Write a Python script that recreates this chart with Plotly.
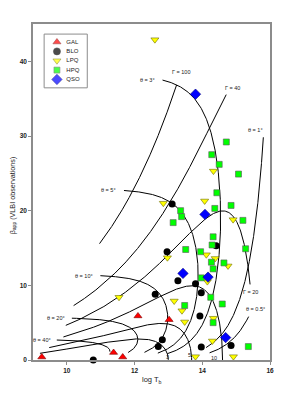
import numpy as np
import plotly.graph_objects as go

# ---------------- data ----------------
gal_logT = [9.26, 11.38, 11.65, 12.10, 13.02]
gal_beta = [0.4, 1.0, 0.4, 5.9, 5.4]

blo_logT = [10.78, 12.61, 12.70, 12.82, 12.96, 13.11, 13.28, 13.80, 13.97, 13.93, 13.97, 14.85, 14.41]
blo_beta = [0.0, 8.8, 1.8, 2.7, 14.5, 20.9, 10.6, 10.2, 9.0, 5.9, 1.75, 1.95, 15.3]

lpq_logT = [12.60, 12.85, 14.07, 14.33, 14.91, 14.12, 14.38, 12.97, 11.54, 13.17,
            13.40, 13.48, 13.80, 14.15, 14.33, 14.30, 14.92, 14.76]
lpq_beta = [42.9, 21.0, 21.3, 25.3, 18.8, 14.1, 13.6, 13.7, 8.4, 7.9,
            6.6, 5.1, 0.45, 10.5, 5.6, 2.55, 0.45, 12.6]

hpq_logT = [14.71, 14.28, 14.50, 15.07, 14.43, 14.85, 14.37, 13.36, 13.39, 13.14,
            15.20, 14.32, 14.29, 13.51, 13.95, 15.28, 14.27, 14.64, 14.32, 13.97,
            14.25, 14.59, 13.48, 14.32, 15.36]
hpq_beta = [29.2, 27.5, 26.2, 24.9, 22.4, 20.7, 20.3, 20.0, 19.2, 18.4,
            18.7, 16.5, 15.4, 14.8, 14.5, 14.9, 13.1, 13.0, 12.2, 11.0,
            8.4, 7.5, 7.3, 5.0, 1.8]

qso_logT = [13.80, 14.08, 13.43, 14.17, 14.69]
qso_beta = [35.6, 19.5, 11.6, 11.1, 3.0]

# model grid (Lorentz factor / viewing angle), T_eq equipartition temperature
T_EQ = 5e10
theta_curves_deg = [0.5, 1, 3, 5, 10, 20, 40]
theta_curve_gmin = [7.5, 7.0, 3.0, 2.5, 2.0, 1.6, 1.5]
theta_curve_gmax = [18.5, 34, 140, 122, 52, 25, 9]

gamma_curves = [3, 5, 10, 20, 40, 100]
gamma_curve_thmax = [93, 60, 35, 24, 15.5, 7.3]
gamma_curve_thmin = [0, 0, 0, 0.78, 2.35, 3.0]

categories = ["GAL", "BLO", "LPQ", "HPQ", "QSO"]


def model(G, th_deg):
    G = np.asarray(G, dtype=float)
    th = np.radians(th_deg)
    b = np.sqrt(1.0 - 1.0 / G**2)
    dop = 1.0 / (G * (1.0 - b * np.cos(th)))
    bapp = b * np.sin(th) / (1.0 - b * np.cos(th))
    logT = np.log10(T_EQ) + 3.0 * np.log10(dop)
    return logT, bapp


fig = go.Figure()
LINE = dict(color="black", width=1)
FONT = "Liberation Sans, Arial, sans-serif"
ann = []

# label placement offsets (pixels) for the model-curve labels
theta_lbl = {0.5: ("left", "bottom", -5, 3), 1: ("right", "bottom", 2, 2),
             3: ("right", "middle", -6, 0), 5: ("right", "middle", -6, 0),
             10: ("right", "middle", -5, 0), 20: ("right", "middle", -5, 0),
             40: ("right", "middle", -4, 0)}
gamma_lbl = {100: ("Γ = 100", "center", "bottom", 4, 8),
             40: ("Γ = 40", "left", "bottom", -3, 2),
             20: ("Γ = 20", "center", "top", 0, -3),
             10: ("10", "center", "middle", -9, 2),
             5: ("5", "center", "middle", -2, 5),
             3: ("3", "center", "middle", -1, 3)}

# constant-theta curves
for th, g0, g1 in zip(theta_curves_deg, theta_curve_gmin, theta_curve_gmax):
    G = np.logspace(np.log10(g0), np.log10(g1), 500)
    x, y = model(G, th)
    fig.add_trace(go.Scatter(x=x, y=y, mode="lines", line=LINE, hoverinfo="skip", showlegend=False))
    xa, ya, xs, ys = theta_lbl[th]
    ann.append(dict(x=x[-1], y=y[-1], text="θ = %g°" % th, xanchor=xa, yanchor=ya, xshift=xs, yshift=ys))

# constant-Gamma curves
for G, t1, t0 in zip(gamma_curves, gamma_curve_thmax, gamma_curve_thmin):
    th = np.linspace(t1, t0, 800)
    th = np.where(th <= 0, 1e-6, th)
    x, y = model(G, th)
    fig.add_trace(go.Scatter(x=x, y=y, mode="lines", line=LINE, hoverinfo="skip", showlegend=False))
    txt, xa, ya, xs, ys = gamma_lbl[G]
    ann.append(dict(x=x[-1], y=y[-1], text=txt, xanchor=xa, yanchor=ya, xshift=xs, yshift=ys))

# observed sources
styles = {
    "GAL": dict(symbol="triangle-up", color="#ff0000", size=7, line=dict(color="#7a0000", width=0.6)),
    "BLO": dict(symbol="circle", color="#000000", size=7, line=dict(color="#000000", width=0)),
    "LPQ": dict(symbol="triangle-down", color="#ffff00", size=7, line=dict(color="#6b6b00", width=0.6)),
    "HPQ": dict(symbol="square", color="#00ff00", size=6, line=dict(color="#5a5a5a", width=0.6)),
    "QSO": dict(symbol="diamond", color="#0000ff", size=8, line=dict(color="#00007a", width=0.6)),
}
series = {
    "GAL": (gal_logT, gal_beta),
    "BLO": (blo_logT, blo_beta),
    "LPQ": (lpq_logT, lpq_beta),
    "HPQ": (hpq_logT, hpq_beta),
    "QSO": (qso_logT, qso_beta),
}
for name in categories:
    xs, ys = series[name]
    fig.add_trace(go.Scatter(x=xs, y=ys, mode="markers", name=name, marker=styles[name],
                             cliponaxis=False, showlegend=False))

# compact legend on an overlay axis (positions from category index)
n = len(categories)
idx = np.arange(n)
fig.add_trace(go.Scatter(
    x=[0.95] * n, y=idx, mode="markers", xaxis="x2", yaxis="y2", hoverinfo="skip", showlegend=False,
    marker=dict(symbol=[styles[c]["symbol"] for c in categories],
                color=[styles[c]["color"] for c in categories],
                size=[styles[c]["size"] for c in categories],
                line=dict(color=[styles[c]["line"]["color"] for c in categories], width=0.6))))
fig.add_trace(go.Scatter(
    x=[1.65] * n, y=idx, mode="text", text=categories, textposition="middle right",
    textfont=dict(family=FONT, size=6, color="#222"), xaxis="x2", yaxis="y2",
    hoverinfo="skip", showlegend=False))

for a in ann:
    a.update(showarrow=False, font=dict(family=FONT, size=5.5, color="#222"))

# axis titles
ann.append(dict(text="log T<sub>b</sub>", xref="paper", yref="paper", x=0.5, y=0, yshift=-20,
                xanchor="center", yanchor="middle", showarrow=False,
                font=dict(family=FONT, size=7.5, color="#222")))
ann.append(dict(text="β<sub>app</sub> (VLBI observations)", xref="paper", yref="paper", x=0, y=0.49,
                xshift=-20, textangle=-90, xanchor="center", yanchor="middle", showarrow=False,
                font=dict(family=FONT, size=7.2, color="#222")))

# page body has an 8px margin; figure is sized so the plot area lands where the reference has it
fig.update_layout(
    width=268, height=377,
    margin=dict(l=25, r=6, t=16, b=25, autoexpand=False),
    paper_bgcolor="white", plot_bgcolor="white",
    showlegend=False,
    annotations=ann,
    xaxis=dict(range=[9, 16], dtick=2, tick0=10, showline=True, mirror=True, linecolor="#8c8c8c",
               linewidth=1.5, ticks="outside", ticklen=3, tickcolor="#8c8c8c", showgrid=False,
               zeroline=False, automargin=False,
               tickfont=dict(family=FONT, size=6.5, color="#222", weight="bold")),
    yaxis=dict(range=[0, 45], dtick=10, showline=True, mirror=True, linecolor="#8c8c8c",
               linewidth=1.5, ticks="outside", ticklen=3, tickcolor="#8c8c8c", showgrid=False,
               zeroline=False, automargin=False,
               tickfont=dict(family=FONT, size=6.5, color="#222", weight="bold")),
    xaxis2=dict(domain=[0.047, 0.229], range=[0, 3.2], visible=False, fixedrange=True,
                automargin=False, anchor="y2"),
    yaxis2=dict(domain=[0.81, 0.97], range=[n - 0.1, -0.85], visible=False, fixedrange=True,
                automargin=False, anchor="x2"),
    shapes=[dict(type="rect", xref="paper", yref="paper", x0=0.047, x1=0.229, y0=0.81, y1=0.97,
                 line=dict(color="#8c8c8c", width=1), fillcolor="rgba(0,0,0,0)")],
)

fig.write_html("out.html")
